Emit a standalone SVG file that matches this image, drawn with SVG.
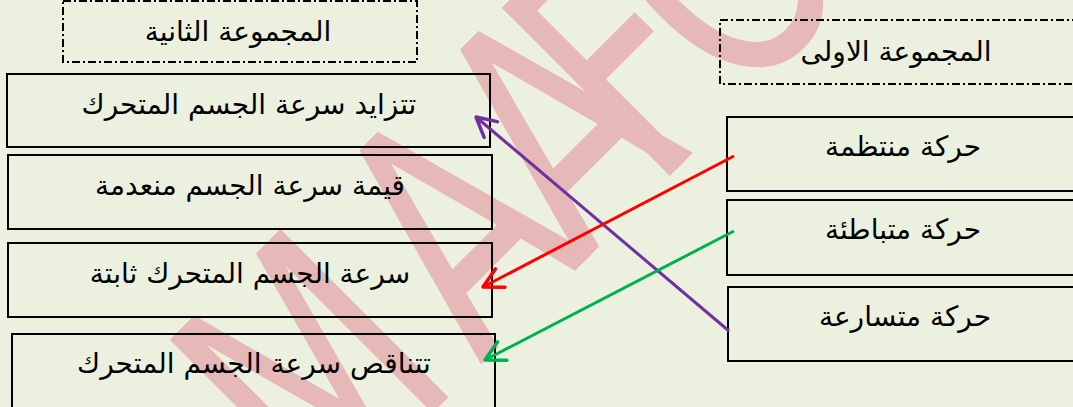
<svg xmlns="http://www.w3.org/2000/svg" width="1073" height="407" viewBox="0 0 1073 407">
  <style>
    .box { fill: none; stroke: #000; stroke-width: 2; }
    .dash { fill: none; stroke: #000; stroke-width: 2; stroke-dasharray: 8 3 2 3; }
    .lbl { font-family: "DejaVu Sans", sans-serif; font-size: 28px; fill: #000; text-anchor: middle; direction: rtl; }
    .wm { font-family: "DejaVu Sans", sans-serif; font-size: 326px; fill: #e6b8b7; }
    .con { fill: none; stroke-width: 3; }
  </style>
  <defs>
    <marker id="ah-purple" markerUnits="userSpaceOnUse" viewBox="-24 -14 28 28" markerWidth="28" markerHeight="28" refX="0" refY="0" orient="auto">
      <path d="M -19.4 -10.3 L 0 0 L -19.4 10.3" fill="none" stroke="#7030a0" stroke-width="3.5" stroke-linecap="round" stroke-linejoin="round"/>
    </marker>
    <marker id="ah-red" markerUnits="userSpaceOnUse" viewBox="-24 -14 28 28" markerWidth="28" markerHeight="28" refX="0" refY="0" orient="auto">
      <path d="M -19.4 -10.3 L 0 0 L -19.4 10.3" fill="none" stroke="#ff0000" stroke-width="3.5" stroke-linecap="round" stroke-linejoin="round"/>
    </marker>
    <marker id="ah-green" markerUnits="userSpaceOnUse" viewBox="-24 -14 28 28" markerWidth="28" markerHeight="28" refX="0" refY="0" orient="auto">
      <path d="M -19.4 -10.3 L 0 0 L -19.4 10.3" fill="none" stroke="#00b050" stroke-width="3.5" stroke-linecap="round" stroke-linejoin="round"/>
    </marker>
  </defs>

  <rect x="0" y="0" width="1073" height="407" fill="#ebf1de"/>

  <g id="watermark" transform="rotate(-45)">
    <text class="wm" transform="scale(0.72,1)" x="-199 112 310 453 614" y="598">MAAFO</text>
  </g>

  <g id="group2-title">
    <rect class="dash" x="63" y="1" width="354" height="61"/>
    <text class="lbl" x="238" y="41">المجموعة الثانية</text>
  </g>
  <g id="group1-title">
    <rect class="dash" x="720" y="20" width="400" height="64"/>
    <text class="lbl" x="896" y="61">المجموعة الاولى</text>
  </g>

  <g id="b-increase">
    <rect class="box" x="7" y="74" width="483" height="73"/>
    <text class="lbl" x="249" y="114">تتزايد سرعة الجسم المتحرك</text>
  </g>
  <g id="b-zero">
    <rect class="box" x="8" y="155" width="484" height="74"/>
    <text class="lbl" x="250" y="195">قيمة سرعة الجسم منعدمة</text>
  </g>
  <g id="b-constant">
    <rect class="box" x="8" y="243" width="484" height="74"/>
    <text class="lbl" x="250" y="283">سرعة الجسم المتحرك ثابتة</text>
  </g>
  <g id="b-decrease">
    <rect class="box" x="12" y="334" width="483" height="90"/>
    <text class="lbl" x="254" y="373">تتناقص سرعة الجسم المتحرك</text>
  </g>

  <g id="m-uniform">
    <rect class="box" x="727" y="117" width="400" height="74"/>
    <text class="lbl" x="903" y="156">حركة منتظمة</text>
  </g>
  <g id="m-decel">
    <rect class="box" x="727" y="200" width="400" height="75"/>
    <text class="lbl" x="903" y="239">حركة متباطئة</text>
  </g>
  <g id="m-accel">
    <rect class="box" x="728" y="287" width="400" height="74"/>
    <text class="lbl" x="905" y="326">حركة متسارعة</text>
  </g>

  <g id="connectors">
    <line class="con" x1="729" y1="331" x2="476" y2="117" stroke="#7030a0" marker-end="url(#ah-purple)"/>
    <line class="con" x1="734" y1="156" x2="483" y2="287" stroke="#ff0000" marker-end="url(#ah-red)"/>
    <line class="con" x1="734" y1="231" x2="485" y2="360" stroke="#00b050" marker-end="url(#ah-green)"/>
  </g>
</svg>
